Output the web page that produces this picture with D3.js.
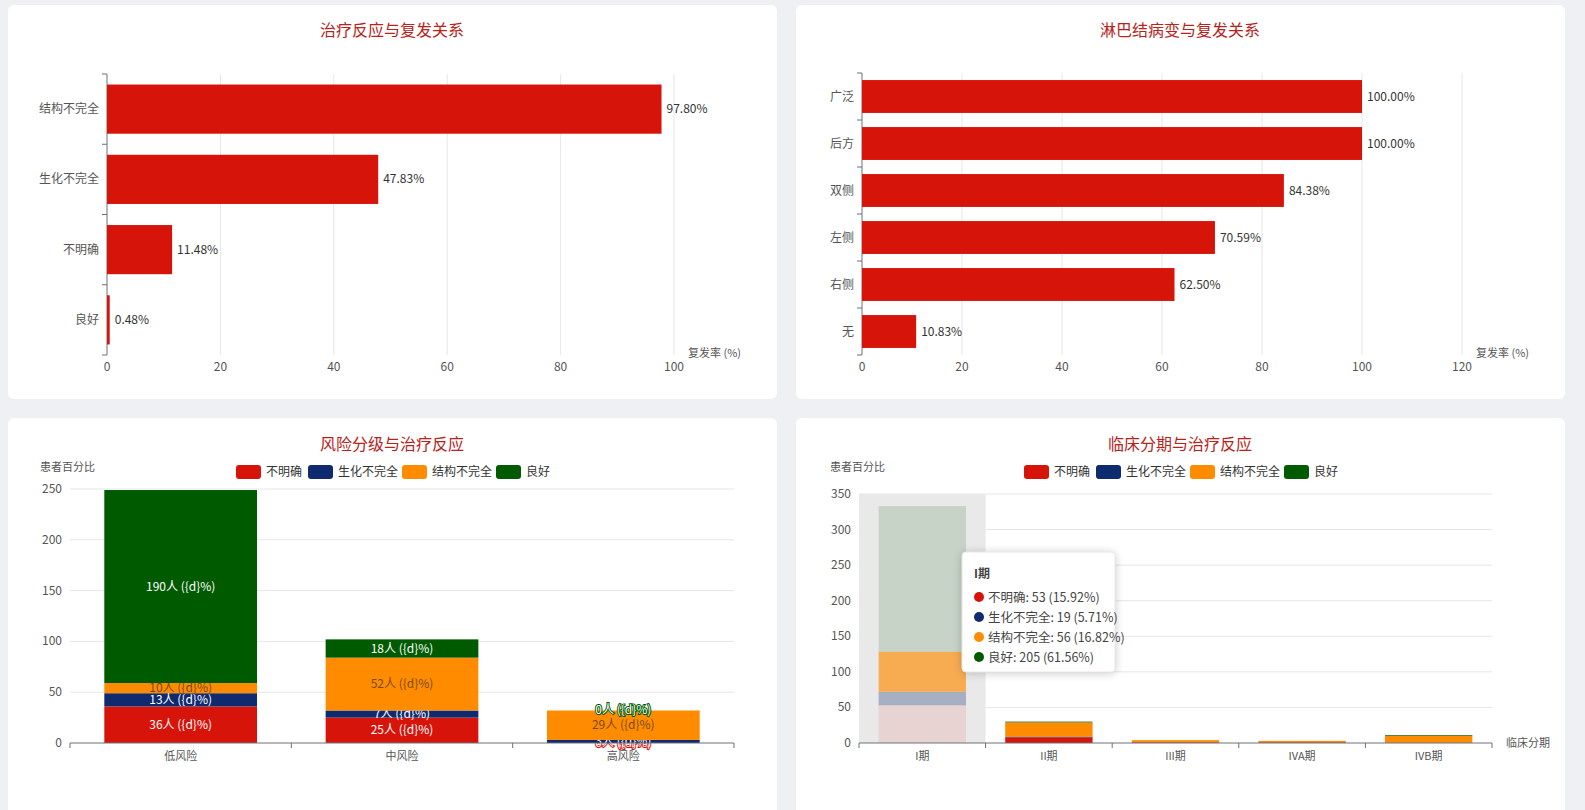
<!DOCTYPE html>
<meta charset="utf-8">
<script src="https://d3js.org/d3.v7.min.js"></script>
<style>
  html, body { margin: 0; overflow: hidden; background: #eef0f4; font-family: "Noto Sans CJK SC", "Noto Sans", sans-serif; }
  svg { display: block; }
</style>
<svg id="chart" width="1585" height="810"></svg>
<script>
// data
var responseCats = ["良好", "不明确", "生化不完全", "结构不完全"];
var responseRates = [0.48, 11.48, 47.83, 97.80];

var nodeCats = ["无", "右侧", "左侧", "双侧", "后方", "广泛"];
var nodeRates = [10.83, 62.50, 70.59, 84.38, 100, 100];

var seriesNames = ["不明确", "生化不完全", "结构不完全", "良好"];
var seriesColors = ["#d7140a", "#0f2a6e", "#ff8c00", "#005a00"];

var riskCats = ["低风险", "中风险", "高风险"];
var riskValues = [
  [36, 25, 0],
  [13, 7, 3],
  [10, 52, 29],
  [190, 18, 0]
];

var stageCats = ["I期", "II期", "III期", "IVA期", "IVB期"];
var stageValues = [
  [53, 8, 1, 1, 0],
  [19, 1, 0, 0, 0],
  [56, 20, 3, 2, 10],
  [205, 1, 0, 0, 1]
];

var svg = d3.select("#chart");
var titleColor = "#b8231b";
var gridColor = "#e4e6ea";
var textColor = "#555";

function panel(x, y, w, h) {
  svg.append("rect").attr("x", x).attr("y", y).attr("width", w).attr("height", h)
    .attr("rx", 6).attr("fill", "#fff");
}
function title(x, y, t) {
  svg.append("text").attr("x", x).attr("y", y).attr("text-anchor", "middle")
    .attr("fill", titleColor).style("font-size", "16px").text(t);
}

panel(8, 5, 769, 394);
panel(796, 5, 769, 394);
panel(8, 418, 769, 400);
panel(796, 418, 769, 400);

// horizontal bar chart
function hbar(cats, vals, x0, x1, maxV, ticks, y0, y1, pad, titleX, titleT) {
  title(titleX, 36, titleT);
  var g = svg.append("g");
  var x = d3.scaleLinear().domain([0, maxV]).range([x0, x1]);
  var y = d3.scaleBand().domain(cats).range([y1, y0]).paddingInner(pad).paddingOuter(pad / 2);
  ticks.forEach(function(t) {
    g.append("line").attr("x1", x(t)).attr("x2", x(t)).attr("y1", y0).attr("y2", y1)
      .attr("stroke", t === 0 ? "none" : gridColor);
    g.append("text").attr("x", x(t)).attr("y", y1 + 16).attr("text-anchor", "middle")
      .attr("fill", textColor).style("font-size", "12px").text(t);
  });
  g.append("line").attr("x1", x0).attr("x2", x0).attr("y1", y0).attr("y2", y1).attr("stroke", "#6e7079");
  var band = (y1 - y0) / cats.length;
  d3.range(cats.length + 1).forEach(function(i) {
    g.append("line").attr("x1", x0 - 5).attr("x2", x0).attr("y1", y0 + i * band).attr("y2", y0 + i * band).attr("stroke", "#6e7079");
  });
  g.selectAll(".b").data(vals).enter().append("rect")
    .attr("x", x0).attr("y", function(d, i) { return y(cats[i]); })
    .attr("width", function(d) { return x(d) - x0; }).attr("height", y.bandwidth())
    .attr("fill", "#d7140a");
  g.selectAll(".v").data(vals).enter().append("text")
    .attr("x", function(d) { return x(d) + 5; }).attr("y", function(d, i) { return y(cats[i]) + y.bandwidth() / 2 + 4; })
    .attr("fill", "#333").style("font-size", "12px").text(function(d) { return d.toFixed(2) + "%"; });
  g.selectAll(".c").data(cats).enter().append("text")
    .attr("x", x0 - 8).attr("y", function(d) { return y(d) + y.bandwidth() / 2 + 4; })
    .attr("text-anchor", "end").attr("fill", textColor).style("font-size", "12px").text(function(d) { return d; });
  return g;
}
var g1 = hbar(responseCats, responseRates, 107, 674, 100, [0, 20, 40, 60, 80, 100], 74, 355, 0.3, 392, "治疗反应与复发关系");
g1.append("text").attr("x", 688).attr("y", 357).attr("fill", textColor).style("font-size", "11px").text("复发率 (%)");
var g2 = hbar(nodeCats, nodeRates, 862, 1462, 120, [0, 20, 40, 60, 80, 100, 120], 73, 355, 0.3, 1180, "淋巴结病变与复发关系");
g2.append("text").attr("x", 1476).attr("y", 357).attr("fill", textColor).style("font-size", "11px").text("复发率 (%)");

// stacked bar chart
var fadeI = [0.1, 0.3, 0.65, 0.15];
function stack(cats, values, x0, x1, maxV, tickStep, titleX, titleT, opts) {
  title(titleX, 450, titleT);
  var y0 = 743;
  var g = svg.append("g");
  var x = d3.scaleBand().domain(cats).range([x0, x1]).paddingInner(0).paddingOuter(0);
  var y = d3.scaleLinear().domain([0, maxV]).range([y0, maxV === 250 ? 489 : 494]);
  var bw = x.bandwidth() * opts.barFrac;
  d3.range(0, maxV + 1, tickStep).forEach(function(t) {
    g.append("line").attr("x1", x0).attr("x2", x1).attr("y1", y(t)).attr("y2", y(t)).attr("stroke", t === 0 ? "none" : gridColor);
    g.append("text").attr("x", x0 - 8).attr("y", y(t) + 4).attr("text-anchor", "end")
      .attr("fill", textColor).style("font-size", "12px").text(t);
  });
  if (opts.shadowIdx != null) {
    g.append("rect").attr("x", x(cats[opts.shadowIdx])).attr("y", y(maxV)).attr("width", x.bandwidth())
      .attr("height", y0 - y(maxV)).attr("fill", "#e9e9e9");
  }
  var base = cats.map(function() { return 0; });
  values.forEach(function(row, s) {
    row.forEach(function(v, i) {
      var yb = y(base[i]), yt = y(base[i] + v);
      g.append("rect").attr("x", x(cats[i]) + (x.bandwidth() - bw) / 2).attr("y", yt)
        .attr("width", bw).attr("height", yb - yt).attr("fill", seriesColors[s])
        .attr("opacity", opts.faded && i === 0 ? fadeI[s] : 1);
      if (opts.labels) {
        g.append("text").attr("x", x(cats[i]) + x.bandwidth() / 2).attr("y", (yb + yt) / 2 + 4)
          .attr("text-anchor", "middle").style("font-size", "12px")
          .attr("fill", s === 2 ? "#7a4a10" : "#fff")
          .attr("stroke", v === 0 ? seriesColors[s] : "none").attr("stroke-width", v === 0 ? 2 : 0)
          .attr("paint-order", "stroke")
          .text(v + "人 ({d}%)");
      }
      base[i] += v;
    });
  });
  g.append("line").attr("x1", x0).attr("x2", x1).attr("y1", y0).attr("y2", y0).attr("stroke", "#6e7079");
  cats.forEach(function(c, i) {
    g.append("line").attr("x1", x(c)).attr("x2", x(c)).attr("y1", y0).attr("y2", y0 + 5).attr("stroke", "#6e7079");
    g.append("text").attr("x", x(c) + x.bandwidth() / 2).attr("y", y0 + 17).attr("text-anchor", "middle")
      .attr("fill", textColor).style("font-size", "11px").text(c);
  });
  g.append("line").attr("x1", x1).attr("x2", x1).attr("y1", y0).attr("y2", y0 + 5).attr("stroke", "#6e7079");
  g.append("text").attr("x", opts.nameX).attr("y", 471).attr("fill", textColor).style("font-size", "11px").text("患者百分比");
  // legend
  var lx = [titleX - 156, titleX - 84, titleX + 10, titleX + 104];
  seriesNames.forEach(function(n, i) {
    g.append("rect").attr("x", lx[i]).attr("y", 465).attr("width", 25).attr("height", 14).attr("rx", 3).attr("fill", seriesColors[i]);
    g.append("text").attr("x", lx[i] + 30).attr("y", 476).attr("fill", "#333").style("font-size", "12px").text(n);
  });
  return { g: g, x: x, y: y };
}
stack(riskCats, riskValues, 70, 734, 250, 50, 392, "风险分级与治疗反应", { barFrac: 0.69, labels: true, nameX: 40 });
var s2 = stack(stageCats, stageValues, 859, 1492, 350, 50, 1180, "临床分期与治疗反应", { barFrac: 0.69, labels: false, faded: true, shadowIdx: 0, nameX: 830 });
s2.g.append("text").attr("x", 1506).attr("y", 747).attr("fill", textColor).style("font-size", "11px").text("临床分期");

// tooltip
var tip = svg.append("g").attr("transform", "translate(962,552)");
tip.append("rect").attr("width", 153).attr("height", 120).attr("rx", 4).attr("fill", "#fff")
  .attr("stroke", "#e8e8e8").style("filter", "drop-shadow(0 1px 4px rgba(0,0,0,0.2))");
tip.append("text").attr("x", 12).attr("y", 26).attr("fill", "#444").style("font-size", "12px").style("font-weight", "bold").text(stageCats[0]);
var tot = d3.sum(stageValues, function(r) { return r[0]; });
seriesNames.forEach(function(n, i) {
  var v = stageValues[i][0];
  tip.append("circle").attr("cx", 17).attr("cy", 45 + i * 20).attr("r", 5).attr("fill", seriesColors[i]);
  tip.append("text").attr("x", 26).attr("y", 50 + i * 20).attr("fill", "#444").style("font-size", "12.5px")
    .text(n + ": " + v + " (" + (v / tot * 100).toFixed(2) + "%)");
});
</script>
